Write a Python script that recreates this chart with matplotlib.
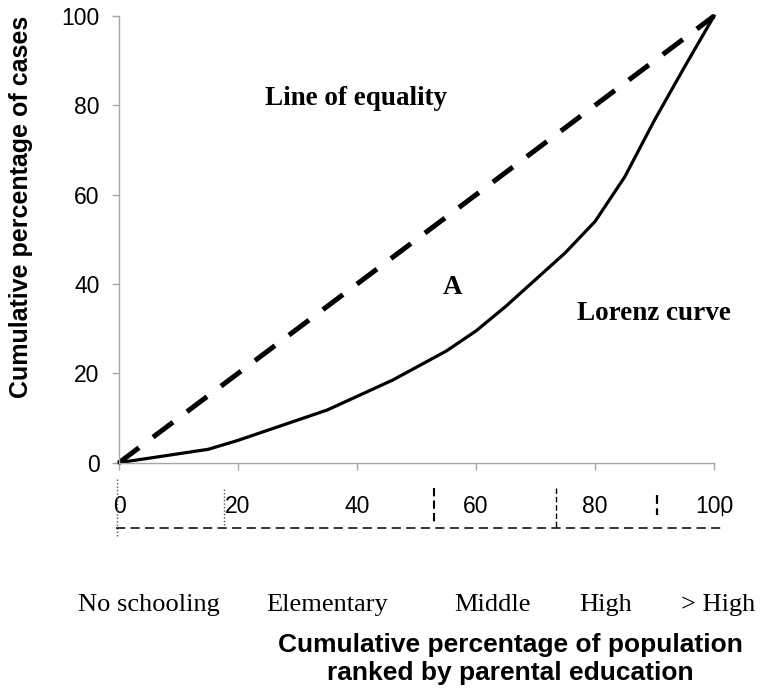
import matplotlib.pyplot as plt

# cumulative % of population (ranked by parental education) vs cumulative % of cases
pop_pct = [0, 15, 20, 35, 46, 55, 60, 65, 70, 75, 80, 85, 90, 95, 100]
lorenz_pct = [0, 3, 5, 11.8, 18.5, 25, 29.5, 35, 41, 47, 54, 64, 76.7, 88.5, 100]
equality_pct = [0, 100]

ticks = [0, 20, 40, 60, 80, 100]
edu_groups = ["No schooling", "Elementary", "Middle", "High", "> High"]
# cumulative population share at each group boundary
edu_bounds = [0, 17.6, 52.9, 73.4, 90.5, 101.3]

# layout only
group_label_x = [5.0, 35.0, 62.7, 81.8, 100.7]
GRAY = "#a6a6a6"

fig = plt.figure(figsize=(7.6, 6.91), dpi=100)
ax = fig.add_axes([0.1566, 0.3304, 0.7829, 0.6464])

ax.plot(equality_pct, equality_pct, color="black", linewidth=3.6,
        dashes=(5, 3.5), dash_capstyle="butt", clip_on=False)
ax.plot(pop_pct, lorenz_pct, color="black", linewidth=2.3, clip_on=False)

ax.set_xlim(0, 100)
ax.set_ylim(0, 100)
ax.set_xticks(ticks)
ax.set_yticks(ticks)
for side in ("top", "right"):
    ax.spines[side].set_visible(False)
for side in ("left", "bottom"):
    ax.spines[side].set_color(GRAY)
    ax.spines[side].set_linewidth(1.0)
ax.tick_params(axis="both", colors=GRAY, length=5, width=1, labelcolor="black",
               labelsize=16.5)
ax.tick_params(axis="x", pad=18)
ax.tick_params(axis="y", pad=9)
for lab in ax.get_xticklabels() + ax.get_yticklabels():
    lab.set_fontfamily("Liberation Sans")

ax.set_ylabel("Cumulative percentage of cases", fontfamily="Liberation Sans",
              fontweight="bold", fontsize=18)
ax.yaxis.set_label_coords(-0.1445, 0.572)

serif_bold = dict(fontfamily="Liberation Serif", fontweight="bold", fontsize=19.5,
                  ha="center", va="center")
ax.text(39.8, 81.6, "Line of equality", **serif_bold)
ax.text(56, 39.3, "A", **serif_bold)
ax.text(89.9, 33.5, "Lorenz curve", **serif_bold)

# group boundary markers below the axis
ax.plot([edu_bounds[0] - 0.4] * 2, [-3.6, -16.6], color="#555555", lw=1,
        linestyle=(0, (1, 1.5)), clip_on=False)
ax.plot([edu_bounds[1]] * 2, [-6, -14.5], color="#555555", lw=1,
        linestyle=(0, (1, 1.5)), clip_on=False)
ax.plot([edu_bounds[2]] * 2, [-5.7, -13.5], color="black", lw=1.5,
        linestyle=(0, (4, 2)), clip_on=False)
ax.plot([edu_bounds[3]] * 2, [-5.7, -14.6], color="black", lw=1,
        linestyle=(0, (4, 2)), clip_on=False)
ax.plot([edu_bounds[4]] * 2, [-7.2, -11.7], color="black", lw=1.6,
        linestyle=(0, (4, 2)), clip_on=False)
ax.plot([edu_bounds[5]] * 2, [-9, -11.7], color="black", lw=1, clip_on=False)
ax.plot([edu_bounds[0] - 0.5, edu_bounds[5]], [-14.55, -14.55], color="black",
        lw=1.1, linestyle=(0, (6, 3.5)), clip_on=False)

for name, gx in zip(edu_groups, group_label_x):
    ax.text(gx, -31.8, name, fontfamily="Liberation Serif", fontsize=19,
            ha="center", va="center", clip_on=False)

fig.text(510 / 760, 1 - 659 / 691,
         "Cumulative percentage of population\nranked by parental education",
         fontfamily="Liberation Sans", fontweight="bold", fontsize=19,
         ha="center", va="center", linespacing=1.22)

fig.savefig("out.png", dpi=100)
